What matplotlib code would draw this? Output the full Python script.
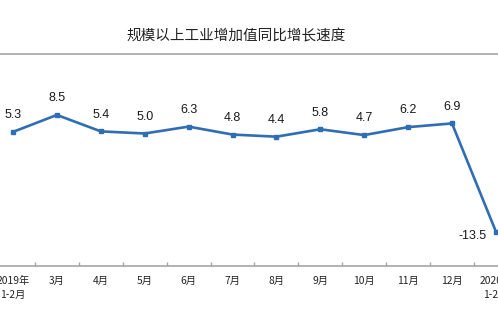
import matplotlib.pyplot as plt
from matplotlib.lines import Line2D

plt.rcParams['font.family'] = ['Noto Sans CJK SC', 'DejaVu Sans']

months = ['2019年\n1-2月', '3月', '4月', '5月', '6月', '7月', '8月', '9月',
          '10月', '11月', '12月', '2020年\n1-2月']
growth = [5.3, 8.5, 5.4, 5.0, 6.3, 4.8, 4.4, 5.8, 4.7, 6.2, 6.9, -13.5]
title = '规模以上工业增加值同比增长速度'

W, H = 498, 332
fig = plt.figure(figsize=(W / 100, H / 100), dpi=100)

ax = fig.add_axes([0, (H - 266) / H, 1, (266 - 107) / H])

x = list(range(len(months)))
blue = '#2f6db4'
ax.plot(x, growth, color=blue, lw=1.9, marker='s', ms=3.2, solid_joinstyle='miter')

for i, v in enumerate(growth):
    if v < 0:
        ax.annotate(f'{v:.1f}', (i, v), xytext=(-17, -3), textcoords='offset points',
                    ha='center', va='center', fontsize=9, family='Liberation Sans',
                    color='#1a1a1a')
    else:
        ax.annotate(f'{v:.1f}', (i, v), xytext=(0, 12), textcoords='offset points',
                    ha='center', va='center', fontsize=9, family='Liberation Sans',
                    color='#1a1a1a')

for s in ['top', 'left', 'right']:
    ax.spines[s].set_visible(False)
ax.spines['bottom'].set_color('#a6a6a6')
ax.spines['bottom'].set_linewidth(1.2)
ax.set_yticks([])

ax.set_xticks(x)
ax.set_xticklabels(months, fontsize=7.4, color='#222222', linespacing=1.45, va='top')
ax.set_xticks([i + 0.5 for i in x], minor=True)
ax.tick_params(axis='x', which='major', length=0, pad=7.5)
ax.tick_params(axis='x', which='minor', direction='in', length=3, color='#a6a6a6', width=1)

# axes run wider than the figure, so the first and last categories sit at the edges
step = 43.9
x0 = 13
ax.set_xlim(-x0 / step, (W - x0) / step)
ax.set_ylim(-20, 10)

fig.text(236 / W, 1 - 36 / H, title, ha='center', va='center', fontsize=10.5, color='#222222')
fig.add_artist(Line2D([0, 1], [1 - 54 / H, 1 - 54 / H], transform=fig.transFigure,
                      color='#a6a6a6', lw=1.2))

fig.savefig('out.png', dpi=100)
